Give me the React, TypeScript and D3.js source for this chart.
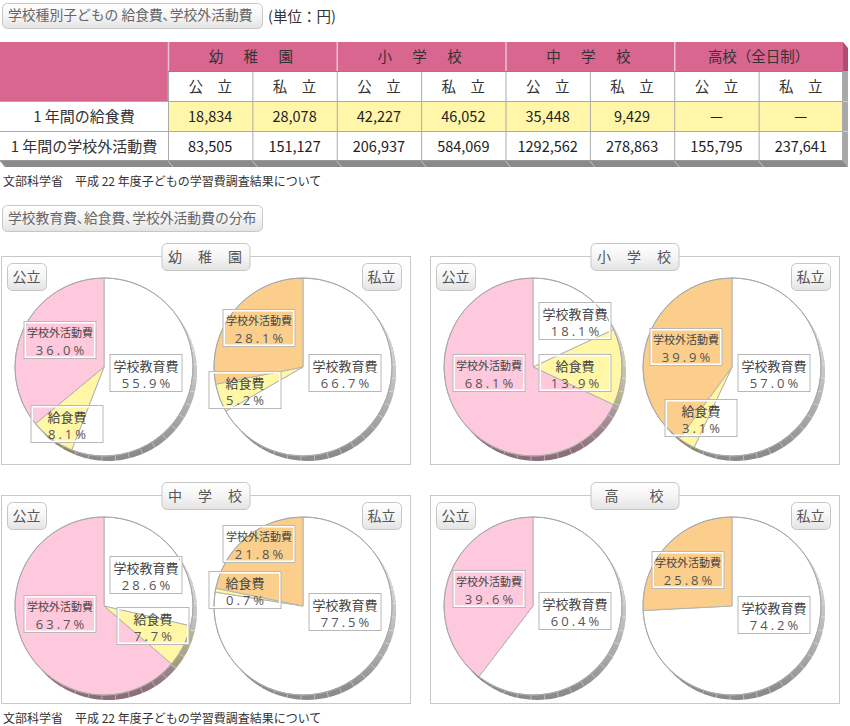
import React from 'react';
import * as d3 from 'd3';

const FONT = '"Noto Sans CJK JP", "Noto Sans", sans-serif';
const NUM_FONT = '"Open Sans", "Noto Sans", sans-serif';

// ---------- data ----------
const tableTitle = '学校種別子どもの 給食費､学校外活動費';
const unitLabel = '(単位：円)';
const schoolHeaders = ['幼　稚　園', '小　学　校', '中　学　校', '高校（全日制）'];
const ownershipHeaders = ['公　立', '私　立'];
const rowLabels = ['1 年間の給食費', '1 年間の学校外活動費'];
const lunchCosts = ['18,834', '28,078', '42,227', '46,052', '35,448', '9,429', '—', '—'];
const outsideCosts = ['83,505', '151,127', '206,937', '584,069', '1292,562', '278,863', '155,795', '237,641'];
const sourceNote = '文部科学省　平成 22 年度子どもの学習費調査結果について';
const pieSectionTitle = '学校教育費､給食費､学校外活動費の分布';
const panelTitles = ['幼　稚　園', '小　学　校', '中　学　校', '高　　校'];
const pieOwnership = ['公立', '私立'];
const sliceNames = ['学校教育費', '給食費', '学校外活動費'];
const educationShare = [55.9, 66.7, 18.1, 57.0, 28.6, 77.5, 60.4, 74.2];
const lunchShare = [8.1, 5.2, 13.9, 3.1, 7.7, 0.7, 0, 0];
const outsideShare = [36.0, 28.1, 68.1, 39.9, 63.7, 21.8, 39.6, 25.8];

// ---------- layout (label box centre offsets from pie centre, per slice) ----------
const labelLayout: [number, number][][] = [
  [[42, 6], [-37, 57], [-44, -27]],
  [[42, 6], [-58, 23], [-44, -39]],
  [[42, -46], [42, 6], [-44, 6]],
  [[42, 6], [-31, 51], [-46, -20]],
  [[42, -31], [49, 20], [-44, 8]],
  [[42, 6], [-58, -16], [-44, -62]],
  [[42, 5], [0, 0], [-44, -17]],
  [[42, 9], [0, 0], [-44, -36]],
];

const PINK_HEADER = '#d8668f';
const YELLOW_ROW = '#fff6aa';
const SLICE_WHITE = '#ffffff';
const SLICE_YELLOW = '#fff6a6';
const SLICE_PINK = '#ffc9dd';
const SLICE_ORANGE = '#fbcf8b';

function Button({ x, y, w, h, text, size = 14, anchor = 'middle', spacing = 0, color = '#555' }: any) {
  const tx = anchor === 'middle' ? x + w / 2 : x + 6;
  return (
    <g>
      <rect x={x + 0.5} y={y + 0.5} width={w} height={h} rx={5} fill="url(#btnGrad)" stroke="#c6c6c6" />
      <text x={tx} y={y + h / 2 + size * 0.36} textAnchor={anchor} fontSize={size} fill={color} letterSpacing={spacing}>
        {text}
      </text>
    </g>
  );
}

export default function App() {
  const colX = d3.scaleLinear().domain([0, 8]).range([168, 843]);
  const rowY = [42, 71, 101, 131, 161];
  const tableRight = 843;
  const depthX = 5;
  const depthY = 6;

  const R = 89;
  const pieGen = d3.pie<number>().sort(null).value((d) => d);
  const arcGen = d3.arc<d3.PieArcDatum<number>>().innerRadius(0).outerRadius(R);
  const panelXs = [1, 430];
  const panelYs = [256, 495];
  const panelW = 409;
  const panelH = 208;

  const boxW = 73;
  const boxH = 38;

  const colIdx = d3.range(8);

  return (
    <svg width={850} height={726} style={{ position: 'absolute', left: 0, top: 0, fontFamily: FONT }}>
      <defs>
        <linearGradient id="btnGrad" x1="0" y1="0" x2="0" y2="1">
          <stop offset="0%" stopColor="#ffffff" />
          <stop offset="50%" stopColor="#f5f5f5" />
          <stop offset="100%" stopColor="#e3e3e3" />
        </linearGradient>
        <linearGradient id="rimFade" x1="0.85" y1="0.05" x2="0.35" y2="1">
          <stop offset="0%" stopColor="#ffffff" stopOpacity={0.85} />
          <stop offset="45%" stopColor="#ffffff" stopOpacity={0.35} />
          <stop offset="80%" stopColor="#ffffff" stopOpacity={0} />
        </linearGradient>
      </defs>
      <rect x={0} y={0} width={850} height={726} fill="#ffffff" />

      {/* ---------- Table title ---------- */}
      <Button x={2} y={3} w={260} h={25} text={tableTitle} size={13.8} anchor="start" color="#666" />
      <text x={268} y={22} fontSize={14.5} fill="#333">{unitLabel}</text>

      {/* ---------- Table ---------- */}
      <polygon
        points={`${tableRight},${rowY[0]} ${tableRight + depthX},${rowY[0] + depthY} ${tableRight + depthX},${rowY[1]} ${tableRight},${rowY[1]}`}
        fill="#b04c74"
      />
      <polygon
        points={`${tableRight},${rowY[1]} ${tableRight + depthX},${rowY[1]} ${tableRight + depthX},${rowY[4] + depthY} ${tableRight},${rowY[4]}`}
        fill="#a8a8a8"
      />
      {rowY.slice(2, 4).map((y, i) => (
        <line key={'rf' + i} x1={tableRight} x2={tableRight + depthX} y1={y} y2={y + 1} stroke="#d0d0d0" />
      ))}
      <polygon
        points={`0,${rowY[4]} ${tableRight},${rowY[4]} ${tableRight + depthX},${rowY[4] + depthY} ${depthX},${rowY[4] + depthY}`}
        fill="#8a8a8a"
      />
      {[0, ...colIdx.map((i) => colX(i))].map((x, i) => (
        <line key={'bf' + i} x1={x} x2={x + depthX} y1={rowY[4]} y2={rowY[4] + depthY} stroke="#c4c4c4" />
      ))}

      <rect x={0} y={rowY[0]} width={168} height={rowY[2] - rowY[0]} fill={PINK_HEADER} />
      <rect x={168} y={rowY[0]} width={tableRight - 168} height={rowY[1] - rowY[0]} fill={PINK_HEADER} />
      <rect x={168} y={rowY[1]} width={tableRight - 168} height={rowY[2] - rowY[1]} fill="#ffffff" />
      <rect x={0} y={rowY[2]} width={168} height={rowY[3] - rowY[2]} fill="#ffffff" />
      <rect x={168} y={rowY[2]} width={tableRight - 168} height={rowY[3] - rowY[2]} fill={YELLOW_ROW} />
      <rect x={0} y={rowY[3]} width={tableRight} height={rowY[4] - rowY[3]} fill="#ffffff" />

      {[0, 2, 4, 6].map((i) => (
        <line key={'hs' + i} x1={colX(i) + 0.5} x2={colX(i) + 0.5} y1={rowY[0]} y2={i === 0 ? rowY[2] : rowY[1]} stroke="#eec2d2" strokeWidth={1.5} />
      ))}
      {colIdx.map((i) => (
        <line key={'vg' + i} x1={colX(i) + 0.5} x2={colX(i) + 0.5} y1={rowY[1]} y2={rowY[4]} stroke="#aaaaaa" />
      ))}
      <line x1={tableRight - 0.5} x2={tableRight - 0.5} y1={rowY[1]} y2={rowY[4]} stroke="#aaaaaa" />
      <line x1={168} x2={tableRight} y1={rowY[1] + 0.5} y2={rowY[1] + 0.5} stroke="#b07088" />
      {[rowY[2], rowY[3]].map((y, i) => (
        <line key={'hg' + i} x1={0} x2={tableRight} y1={y + 0.5} y2={y + 0.5} stroke="#aaaaaa" />
      ))}
      <line x1={0} x2={tableRight} y1={rowY[4] - 0.5} y2={rowY[4] - 0.5} stroke="#999" />

      {schoolHeaders.map((s, g) => (
        <text key={'sh' + g} x={(colX(g * 2) + colX(g * 2 + 2)) / 2} y={62} textAnchor="middle" fontSize={14.5} fill="#333" letterSpacing={g < 3 ? 3 : 0}>
          {s}
        </text>
      ))}
      {colIdx.map((i) => (
        <text key={'oh' + i} x={(colX(i) + colX(i + 1)) / 2} y={92} textAnchor="middle" fontSize={14.5} fill="#333">
          {ownershipHeaders[i % 2]}
        </text>
      ))}
      <text x={84} y={122} textAnchor="middle" fontSize={15} fill="#333">{rowLabels[0]}</text>
      <text x={84} y={152} textAnchor="middle" fontSize={15} fill="#333">{rowLabels[1]}</text>
      {colIdx.map((i) => (
        <text key={'lc' + i} x={(colX(i) + colX(i + 1)) / 2} y={122} textAnchor="middle" fontSize={14.5} fill="#222">
          {lunchCosts[i]}
        </text>
      ))}
      {colIdx.map((i) => (
        <text key={'oc' + i} x={(colX(i) + colX(i + 1)) / 2} y={152} textAnchor="middle" fontSize={14.5} fill="#222">
          {outsideCosts[i]}
        </text>
      ))}

      <text x={3} y={186} fontSize={12} fill="#333">{sourceNote}</text>

      {/* ---------- Pie section ---------- */}
      <Button x={2} y={205} w={260} h={26} text={pieSectionTitle} size={13.8} anchor="start" color="#666" />

      {panelTitles.map((title, pi) => {
        const px = panelXs[pi % 2];
        const py = panelYs[Math.floor(pi / 2)];
        return (
          <g key={'panel' + pi}>
            <rect x={px + 0.5} y={py + 0.5} width={panelW} height={panelH} fill="none" stroke="#c8c8c8" />
            <Button x={px + panelW / 2 - 44} y={py - 13} w={88} h={27} text={title} size={14} spacing={1} />
            <Button x={px + 6} y={py + 7} w={39} h={27} text={pieOwnership[0]} size={14} />
            <Button x={px + panelW - 48} y={py + 7} w={39} h={27} text={pieOwnership[1]} size={14} />
            {[0, 1].map((side) => {
              const p = pi * 2 + side;
              const cx = px + [103, 302][side];
              const cy = py + 111;
              const values = [educationShare[p], lunchShare[p], outsideShare[p]];
              const colors = [SLICE_WHITE, SLICE_YELLOW, side === 0 ? SLICE_PINK : SLICE_ORANGE];
              const arcs = pieGen(values).filter((a) => a.value > 0);
              const sx = 4;
              const sy = 5;
              return (
                <g key={'pie' + p}>
                  <g transform={`translate(${cx + sx},${cy + sy})`}>
                    {arcs.map((a, k) => (
                      <path key={'s' + k} d={arcGen(a) || ''} fill={d3.color(colors[a.index])!.darker(1.7).formatHex()} />
                    ))}
                    <circle r={R} fill="url(#rimFade)" />
                    {d3.range(40, 230, 9).map((deg) => {
                      const t = (deg * Math.PI) / 180;
                      return (
                        <line
                          key={'rl' + deg}
                          x1={Math.sin(t) * (R - 8)}
                          y1={-Math.cos(t) * (R - 8)}
                          x2={Math.sin(t) * (R + 1)}
                          y2={-Math.cos(t) * (R + 1)}
                          stroke="#ffffff"
                          strokeOpacity={0.4}
                        />
                      );
                    })}
                  </g>
                  <g transform={`translate(${cx},${cy})`}>
                    {arcs.map((a, k) => (
                      <path key={'p' + k} d={arcGen(a) || ''} fill={colors[a.index]} stroke="#b4b4b4" strokeWidth={1} />
                    ))}
                    <circle r={R} fill="none" stroke="#a9a9a9" />
                  </g>
                  {arcs.map((a) => {
                    const [dx, dy] = labelLayout[p][a.index];
                    const bx = cx + dx - boxW / 2;
                    const by = cy + dy - boxH / 2;
                    const small = a.index === 2;
                    return (
                      <g key={'l' + a.index}>
                        <rect x={bx + 1.5} y={by + 1.5} width={boxW - 3} height={boxH - 3} fill="none" stroke="#ffffff" strokeWidth={2} />
                        <rect x={bx + 0.5} y={by + 0.5} width={boxW - 1} height={boxH - 1} fill="none" stroke="#b8b8b8" />
                        <text x={bx + boxW / 2} y={by + (small ? 15.5 : 16.5)} textAnchor="middle" fontSize={small ? 11 : 13} fill="#444">
                          {sliceNames[a.index]}
                        </text>
                        <text x={bx + boxW / 2 + 1.5} y={by + 34} textAnchor="middle" fontSize={13} fill="#555" letterSpacing={3} fontFamily={NUM_FONT}>
                          {`${values[a.index].toFixed(1)}%`}
                        </text>
                      </g>
                    );
                  })}
                </g>
              );
            })}
          </g>
        );
      })}

      <text x={3} y={723} fontSize={12} fill="#333">{sourceNote}</text>
    </svg>
  );
}
